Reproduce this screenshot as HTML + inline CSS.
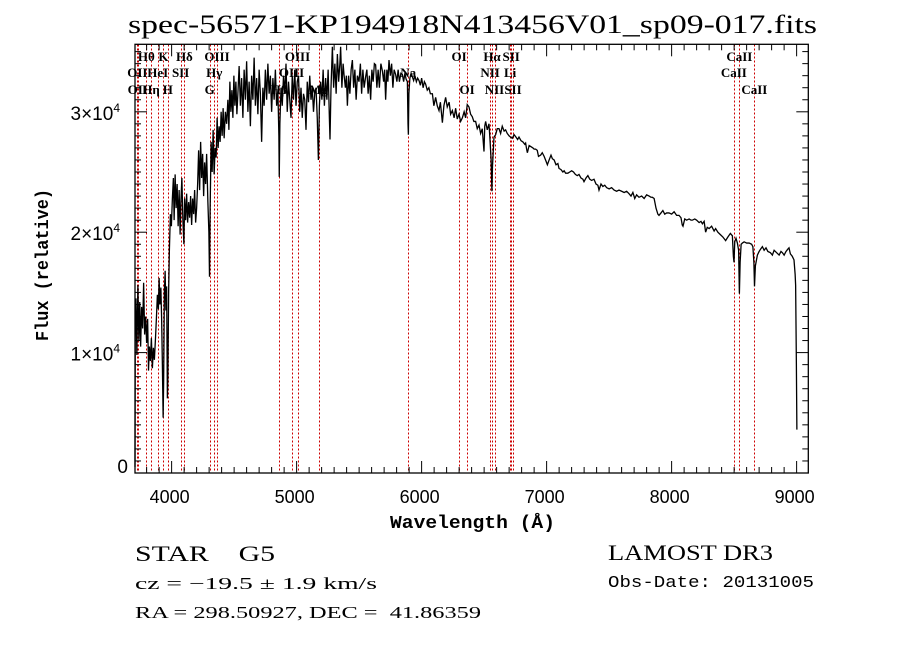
<!DOCTYPE html>
<html><head><meta charset="utf-8"><style>
html,body{margin:0;padding:0;background:#fff;}
svg{display:block;}
</style></head><body>
<svg id="chart" width="900" height="649" viewBox="0 0 900 649" xmlns="http://www.w3.org/2000/svg">
<rect width="900" height="649" fill="#fff"/>
<text x="128" y="33" font-family="Liberation Serif, serif" font-size="26" textLength="689" lengthAdjust="spacingAndGlyphs">spec-56571-KP194918N413456V01_sp09-017.fits</text>
<g id="lines"></g>
<g id="linelabels"></g>
<g id="spec"></g>
<g id="axes"></g>
<text x="390" y="528" font-family="Liberation Mono, monospace" font-size="18" font-weight="bold" textLength="165" lengthAdjust="spacingAndGlyphs">Wavelength (Å)</text>
<text transform="translate(48,265) rotate(-90)" text-anchor="middle" font-family="Liberation Mono, monospace" font-size="18" font-weight="bold" textLength="152" lengthAdjust="spacingAndGlyphs">Flux (relative)</text>
<text x="135" y="561" font-family="Liberation Serif, serif" font-size="22" xml:space="preserve" textLength="140" lengthAdjust="spacingAndGlyphs">STAR    G5</text>
<text x="135" y="589" font-family="Liberation Serif, serif" font-size="17" textLength="242" lengthAdjust="spacingAndGlyphs">cz = −19.5 ± 1.9 km/s</text>
<text x="135" y="618" font-family="Liberation Serif, serif" font-size="17" xml:space="preserve" textLength="346" lengthAdjust="spacingAndGlyphs">RA = 298.50927, DEC =  41.86359</text>
<text x="608" y="560" font-family="Liberation Serif, serif" font-size="22" textLength="165" lengthAdjust="spacingAndGlyphs">LAMOST DR3</text>
<text x="608" y="587" font-family="Liberation Mono, monospace" font-size="17" textLength="206" lengthAdjust="spacingAndGlyphs">Obs-Date: 20131005</text>
</svg>
<script>
const wl=[3707,3709,3715,3722,3730,3738,3745,3752,3760,3768,3776,3784,3792,3800,3808,3815,3822,3830,3838,3846,3854,3862,3870,3878,3886,3894,3900,3906,3914,3920,3926,3932,3936,3942,3948,3954,3960,3966,3970,3976,3982,3990,3998,4006,4014,4020,4028,4036,4044,4052,4060,4068,4074,4082,4090,4098,4104,4112,4120,4128,4136,4144,4152,4160,4168,4176,4184,4192,4200,4208,4216,4224,4232,4240,4248,4256,4264,4272,4280,4290,4298,4303,4308,4316,4324,4332,4340,4348,4356,4364,4372,4380,4388,4396,4404,4412,4420,4430,4440,4450,4458,4466,4474,4482,4490,4498,4506,4514,4522,4530,4540,4550,4560,4570,4580,4590,4600,4610,4620,4630,4640,4650,4660,4670,4680,4690,4700,4710,4720,4730,4740,4750,4760,4770,4780,4790,4800,4810,4820,4830,4840,4850,4858,4861,4866,4875,4885,4895,4905,4915,4925,4935,4945,4955,4965,4975,4985,4995,5005,5015,5025,5035,5045,5055,5065,5075,5085,5095,5105,5115,5125,5135,5145,5155,5165,5174,5182,5192,5202,5212,5222,5232,5242,5252,5262,5267,5275,5286,5296,5306,5316,5326,5336,5346,5352,5362,5372,5379,5390,5398,5406,5416,5426,5436,5446,5456,5466,5476,5486,5499,5510,5520,5530,5540,5552,5562,5572,5582,5592,5602,5612,5622,5632,5642,5652,5662,5674,5686,5696,5704,5712,5722,5730,5739,5750,5760,5770,5780,5792,5802,5812,5822,5834,5846,5856,5866,5876,5886,5891,5894,5898,5906,5916,5926,5936,5946,5958,5968,5979,5990,6000,6012,6022,6032,6045,6058,6070,6086,6098,6112,6125,6139,6150,6166,6178,6192,6205,6220,6232,6246,6260,6272,6285,6299,6312,6326,6340,6352,6365,6379,6392,6405,6418,6432,6445,6459,6472,6485,6499,6505,6512,6525,6539,6548,6556,6562,6567,6579,6592,6605,6619,6632,6645,6660,6672,6685,6700,6712,6725,6740,6755,6768,6779,6795,6810,6825,6832,6840,6846,6860,6875,6890,6900,6912,6925,6935,6952,6965,6980,6995,7006,7020,7035,7046,7060,7075,7090,7099,7115,7130,7140,7152,7170,7185,7200,7215,7230,7245,7259,7275,7290,7299,7315,7330,7345,7360,7379,7395,7410,7419,7435,7450,7465,7480,7500,7520,7540,7560,7579,7600,7620,7640,7659,7675,7690,7705,7720,7739,7760,7780,7800,7820,7835,7846,7860,7875,7890,7899,7915,7930,7945,7960,7979,8000,8020,8040,8059,8075,8085,8091,8105,8120,8140,8155,8166,8185,8200,8220,8235,8246,8260,8272,8285,8300,8320,8340,8352,8370,8390,8410,8432,8450,8470,8486,8494,8499,8505,8515,8526,8536,8542,8548,8556,8566,8580,8600,8620,8640,8650,8658,8663,8670,8686,8700,8712,8726,8740,8755,8770,8790,8806,8820,8840,8860,8875,8886,8900,8915,8930,8939,8950,8965,8979,8988,8992,8998,9002];
const flux=[500,12000,14500,9800,15600,11000,14200,10500,13800,12000,15800,11500,13000,10800,12800,8500,10500,9300,11200,8700,10400,9400,11000,12800,14800,13600,16200,14000,15400,12800,9000,4600,7500,15000,16800,13500,15500,6200,8000,15000,18500,21500,20500,22800,24500,21000,24800,22000,24000,20500,23500,19800,22500,24500,21000,19000,22800,21000,23200,20800,22500,21200,23000,20600,22800,21500,23500,20800,22000,24000,26800,23500,27500,24500,26500,23000,25800,24000,26500,22500,20000,16300,22000,27500,25000,28500,24800,27000,26200,29500,27000,28800,27500,30000,28000,30300,27800,30000,29000,31000,28500,32500,30000,31800,29500,33000,30500,32500,29800,31500,33800,30500,32800,29500,33500,31000,34200,30000,32500,28800,33000,31000,34500,30500,32800,29800,33500,31500,27500,32000,30500,33500,31000,34000,31500,33000,30000,32800,31000,33500,30500,31800,28000,24600,29000,32000,30500,33000,31500,34000,30000,32500,31000,29500,33000,31000,33500,30500,32500,33000,30000,32000,29500,31500,31000,28500,32500,30800,33000,31000,32000,30000,31500,32000,29500,26000,30500,32500,31000,33500,30500,32800,31000,33500,29500,27700,32000,35400,32000,34000,31500,34800,32500,34000,35400,32000,34000,33100,32000,33000,30500,33000,31500,33500,34300,32000,33500,31000,33000,32500,34000,31500,33500,32000,32900,33500,31500,33000,31000,33500,32500,34000,33900,32000,33500,32000,34000,33400,32500,33500,31000,33500,32500,34300,33000,34000,32000,33500,33100,32500,33500,32500,33200,33100,32500,33200,32700,32500,29000,28100,31500,32800,33200,32900,32600,33000,32500,32800,32600,32200,32800,32000,32500,32300,31800,32000,31500,31500,30500,31200,30500,30100,30800,29100,30500,31200,30400,30800,29800,30100,29500,30300,29400,29800,29200,29500,30000,29500,30600,30400,29800,29600,29200,29200,28600,28900,28200,28600,26700,28800,29200,28500,29000,27500,26000,23400,25500,27900,28100,28600,28600,28200,28800,28400,28500,28200,28000,27900,27800,28100,27900,27700,27900,27600,27500,27300,27400,26900,26600,27200,27100,27000,26900,26900,26800,26300,26400,26600,26300,25900,25600,26000,26400,26100,26000,25600,25700,25300,25200,25000,25100,24900,24900,25000,25100,25000,24800,24700,24800,24500,24400,24200,24500,24700,24400,24300,24400,24000,23900,23500,24000,23800,23900,23700,23600,23700,23500,23400,23500,23400,23300,23400,23200,23000,23300,22800,23100,22900,23000,22800,23100,23000,22900,22900,22800,22000,21500,21400,21600,21800,21500,21600,21600,21500,21700,21400,21400,21200,20600,20500,21100,21000,21100,21000,21000,21100,21000,20800,20900,20700,20900,20000,20400,20300,20500,20100,20300,20000,19800,19600,19300,19600,19900,19700,18000,17500,19200,19500,19100,18500,14900,17500,19000,19100,19200,19100,19100,19000,18800,17500,15500,17200,18100,18400,18600,18800,18500,18700,18400,18300,18100,18500,18300,18100,18400,18300,18100,18400,18600,18700,18200,18000,17700,16500,15600,9000,3600];
const lineWl=[3726,3729,3798,3835,3889,3934,3969,4072,4102,4304,4341,4363,4861,4959,5007,5175,5893,6300,6364,6548,6563,6583,6708,6716,6731,8498,8542,8662];
const lineLabels=[["OII",1],["OII",2],["Hθ",0],["Hη",2],["HeI",1],["K",0],["H",2],["SII",1],["Hδ",0],["G",2],["Hγ",1],["OIII",0],["Hβ",2],["OIII",1],["OIII",0],["Mg",2],["Na",1],["OI",0],["OI",2],["NII",1],["Hα",0],["NII",2],["Li",1],["SII",0],["SII",2],["CaII",1],["CaII",0],["CaII",2]];
const xTicks=[4000,5000,6000,7000,8000,9000];
const yTicks=[0,10000,20000,30000];
const yTickLabels=["0","1×10<tspan font-size='12' dy='-8'>4</tspan>","2×10<tspan font-size='12' dy='-8'>4</tspan>","3×10<tspan font-size='12' dy='-8'>4</tspan>"];

const L=135,R=808.3,T=44.3,B=473;
const XMIN=3707,XMAX=3707+(R-L)/0.125,YMIN=0,YMAX=(B-T)/120.4*10000;
const xs=v=>L+(v-XMIN)/(XMAX-XMIN)*(R-L);
const ys=v=>B-(v-YMIN)/(YMAX-YMIN)*(B-T);
const NS="http://www.w3.org/2000/svg";
function mk(tag,attrs,parent){const e=document.createElementNS(NS,tag);for(const k in attrs)e.setAttribute(k,attrs[k]);parent.appendChild(e);return e;}

const gl=document.getElementById('lines'),gll=document.getElementById('linelabels');
const rowsY=[61,77,94];
lineWl.forEach((w,i)=>{
  const x=Math.round(xs(w))+0.5;
  const l=mk('line',{x1:x,x2:x,y1:T,y2:B,stroke:'#cc0000','stroke-width':1,'stroke-dasharray':'2,2','shape-rendering':'crispEdges'},gl);
  
  
  const t=mk('text',{x:xs(w),y:rowsY[lineLabels[i][1]],'text-anchor':'middle','font-family':'Liberation Serif, serif','font-size':13,'font-weight':'bold'},gll);
  t.textContent=lineLabels[i][0];
  
  
});

const gs=document.getElementById('spec');
let d='';
wl.forEach((w,i)=>{d+=(i?'L':'M')+xs(w).toFixed(2)+','+ys(flux[i]).toFixed(2);});
const p=mk('path',{d:d,fill:'none',stroke:'#000','stroke-width':1.3,'stroke-linejoin':'miter'},gs);



const ga=document.getElementById('axes');
const fr=mk('rect',{x:L,y:T,width:R-L,height:B-T,fill:'none',stroke:'#000','stroke-width':1.3},ga);


for(let w=3800;w<=XMAX;w+=100){
  const x=xs(w),big=(w%1000===0);const len=big?12:6;
  mk('line',{x1:x,x2:x,y1:B,y2:B-len,stroke:'#000','stroke-width':1},ga);
  mk('line',{x1:x,x2:x,y1:T,y2:T+len,stroke:'#000','stroke-width':1},ga);
}
for(let v=1000;v<=YMAX;v+=1000){
  const y=ys(v),big=(v%10000===0);const len=big?12:6;
  mk('line',{x1:L,x2:L+len,y1:y,y2:y,stroke:'#000','stroke-width':1},ga);
  mk('line',{x1:R,x2:R-len,y1:y,y2:y,stroke:'#000','stroke-width':1},ga);
}
xTicks.forEach(v=>{
  const t=mk('text',{x:xs(v)-2,y:503,'text-anchor':'middle','font-family':'Liberation Sans, sans-serif','font-size':18},ga);
  t.textContent=String(v);
  
  
});
yTicks.forEach((v,i)=>{
  const t=mk('text',{x:v===0?128:120,y:ys(v)+(v===0?0:8),'text-anchor':'end','font-family':'Liberation Sans, sans-serif','font-size':19},ga);
  t.innerHTML=yTickLabels[i];
  
  
});
</script>
</body></html>
